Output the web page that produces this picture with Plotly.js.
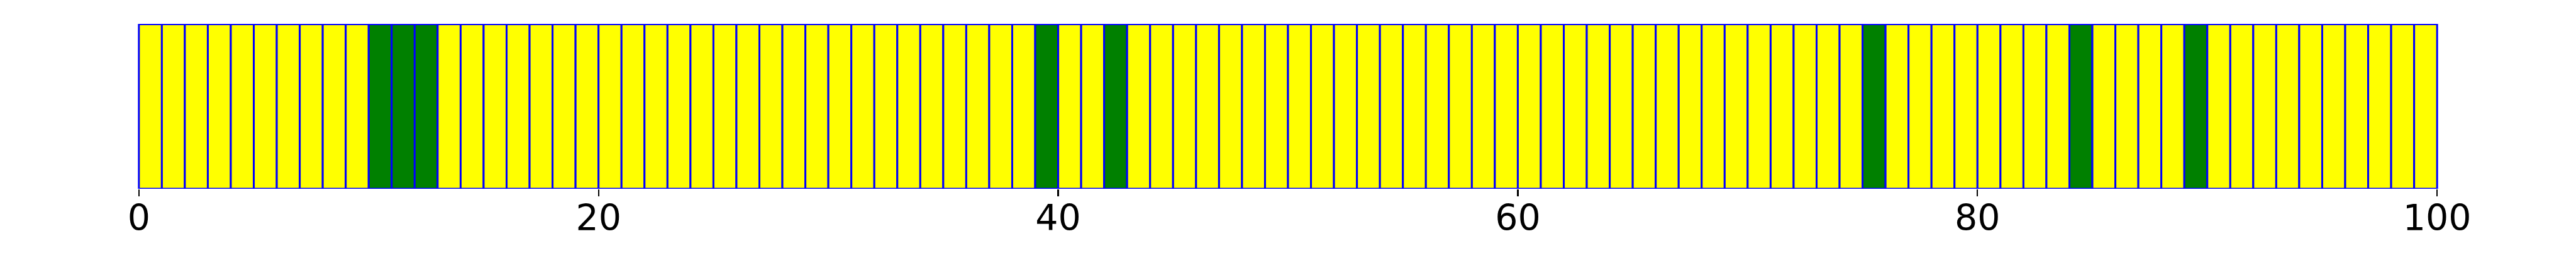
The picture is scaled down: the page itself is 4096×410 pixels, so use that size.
<!DOCTYPE html>
<html>
<head>
<meta charset="utf-8">
<script src="https://cdn.plot.ly/plotly-3.0.1.min.js"></script>
<style>
html, body { margin: 0; padding: 0; background: #ffffff; }
#chart { width: 4096px; height: 410px; }
</style>
</head>
<body>
<div id="chart"></div>
<script>
// Data: 100 unit-wide cells starting at positions 0..99, each of height 1
const positions = Array.from({length: 100}, (_, i) => i);
const heights = positions.map(() => 1);
const greenCells = [10, 11, 12, 39, 42, 75, 84, 89];
const tickValues = [0, 20, 40, 60, 80, 100];
const tickLabels = ["0", "20", "40", "60", "80", "100"];

const YELLOW = "#ffff00";
const GREEN = "#008000";
const EDGE = "#0000ff";

const colors = positions.map(p => greenCells.includes(p) ? GREEN : YELLOW);

const trace = {
  type: "bar",
  x: positions,
  y: heights,
  width: 1,
  offset: 0,
  marker: { color: colors, line: { color: EDGE, width: 3 } },
  hoverinfo: "skip",
  showlegend: false
};

const layout = {
  width: 4096,
  height: 410,
  margin: { l: 219.2, r: 218.6, t: 38, b: 110, pad: 0 },
  paper_bgcolor: "#ffffff",
  plot_bgcolor: "#ffffff",
  bargap: 0,
  xaxis: {
    range: [-0.05, 100.05],
    tickmode: "array",
    tickvals: tickValues,
    ticktext: tickLabels,
    ticks: "outside",
    ticklen: 10.5,
    tickwidth: 2.3,
    tickcolor: "#000000",
    ticklabelstandoff: -14,
    showline: false,
    showgrid: false,
    zeroline: false,
    tickfont: { family: "DejaVu Sans", size: 57, color: "#000000" }
  },
  yaxis: {
    range: [0, 1.002],
    visible: false,
    showgrid: false,
    zeroline: false
  },
  font: { family: "DejaVu Sans" }
};

Plotly.newPlot("chart", [trace], layout, { staticPlot: true, displayModeBar: false });
</script>
</body>
</html>
